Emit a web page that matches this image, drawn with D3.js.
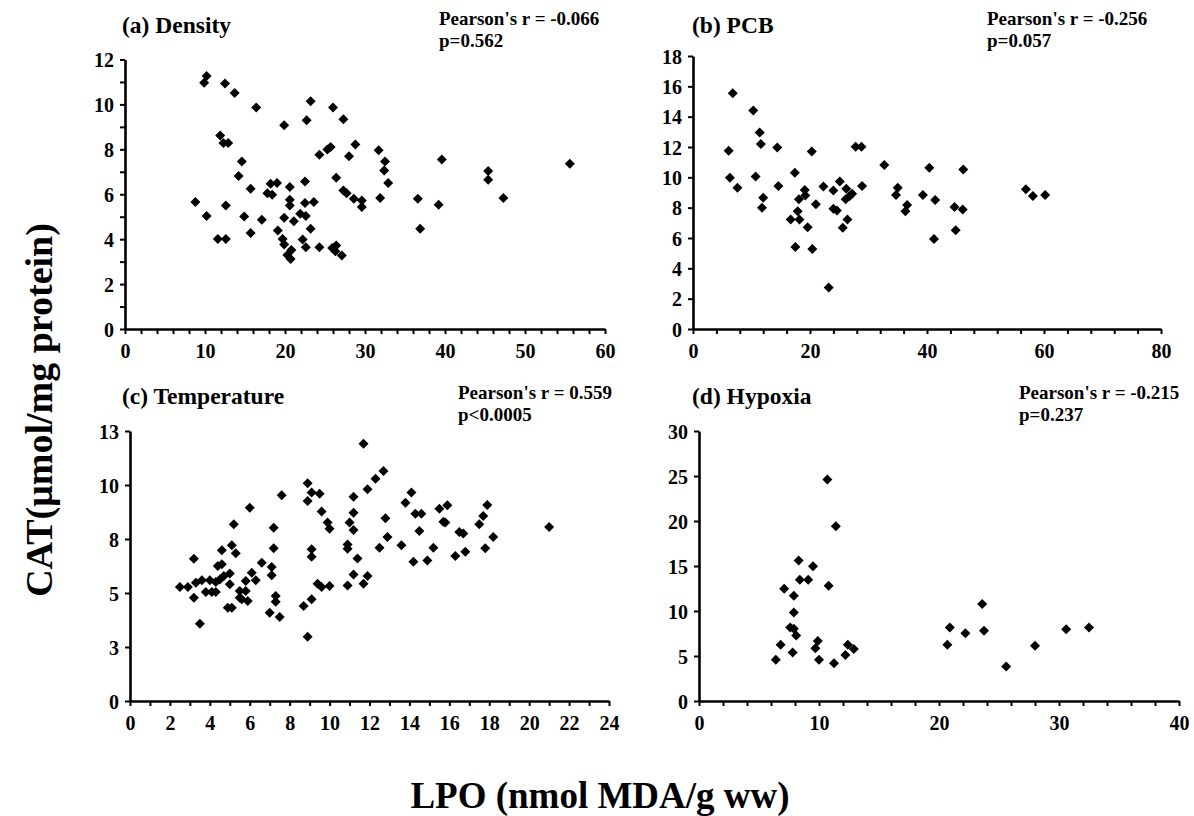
<!DOCTYPE html>
<html><head><meta charset="utf-8">
<script src="https://cdn.jsdelivr.net/npm/d3@7"></script>
<style>
body{margin:0;background:#fff}
svg text{font-family:"Liberation Serif","Times New Roman",serif;font-weight:bold;fill:#000}
</style>
</head><body>
<svg id="chart" width="1194" height="816"></svg>
<script>
// ---------- DATA ----------
const densityX = [10.2,9.9,12.5,13.7,16.4,23.2,22.7,19.9,26.0,27.3,11.9,12.3,12.9,14.6,14.2,15.7,18.2,19.0,17.8,18.4,20.6,22.5,8.8,10.2,12.6,14.9,17.1,15.7,11.6,12.6,20.6,20.6,19.9,21.1,21.9,22.6,22.5,23.6,23.2,19.1,19.7,19.9,20.8,20.3,20.7,22.2,22.6,24.3,25.9,26.4,26.3,27.1,24.3,25.3,25.7,28.0,28.8,26.4,27.3,27.7,28.6,29.6,29.6,31.7,32.5,32.4,32.9,31.9,36.6,36.9,39.6,39.2,45.4,45.4,47.3,55.6];
const densityY = [11.26,10.96,10.93,10.51,9.86,10.14,9.29,9.07,9.86,9.34,8.62,8.28,8.28,7.46,6.81,6.25,6.47,6.50,6.05,5.98,6.32,6.57,5.65,5.03,5.50,5.01,4.86,4.27,4.01,4.01,5.75,5.50,4.95,4.80,5.13,5.03,5.61,5.65,4.46,4.39,4.01,3.76,3.52,3.30,3.12,3.99,3.64,3.64,3.61,3.72,3.46,3.27,7.76,7.99,8.10,7.69,8.22,6.74,6.17,6.05,5.80,5.72,5.43,7.96,7.46,7.06,6.50,5.83,5.80,4.46,7.55,5.53,7.03,6.65,5.83,7.36];

const pcbX = [6.8,10.3,11.4,11.6,14.4,6.1,20.3,27.8,28.8,32.7,40.4,46.2,6.3,10.7,7.6,14.6,17.4,12.0,11.8,19.1,19.2,18.1,21.0,22.3,24.0,25.1,26.2,26.1,26.8,27.2,28.9,24.0,24.6,17.9,16.7,18.2,19.6,26.4,25.6,17.5,20.4,23.2,35.0,34.7,36.6,36.3,39.3,41.4,41.2,44.7,46.1,44.9,56.9,58.1,60.2];
const pcbY = [15.55,14.40,12.96,12.19,11.97,11.75,11.70,12.01,12.01,10.82,10.64,10.51,9.98,10.05,9.32,9.43,10.31,8.66,7.99,9.17,8.81,8.55,8.22,9.39,9.14,9.72,9.25,8.55,8.77,8.92,9.43,7.93,7.82,7.77,7.22,7.22,6.71,7.22,6.67,5.41,5.28,2.74,9.32,8.83,8.17,7.77,8.83,8.50,5.94,8.04,7.88,6.51,9.21,8.77,8.83];

const tempX = [2.5,2.9,3.2,3.3,3.6,3.2,3.5,3.8,4.0,4.1,4.3,4.3,4.4,4.6,4.6,4.5,4.7,5.0,5.0,5.1,5.3,5.2,4.9,5.1,5.5,5.5,5.6,5.8,5.8,5.9,6.1,6.3,6.0,6.6,7.0,7.1,7.1,7.2,7.2,7.3,7.3,7.5,7.6,8.9,8.9,9.1,9.5,9.6,9.9,10.0,9.1,9.1,8.7,8.9,9.1,9.4,9.6,10.0,10.9,10.9,10.9,11.0,11.2,11.2,11.2,11.2,11.4,11.7,11.9,11.7,11.9,12.3,12.7,12.8,12.9,12.5,13.6,13.8,14.1,14.2,14.3,14.6,14.5,14.9,15.2,15.5,15.9,15.7,15.8,16.3,16.5,16.7,16.8,17.5,17.7,17.9,17.8,18.2,21.0];
const tempY = [5.28,5.28,6.59,5.48,5.59,4.78,3.58,5.05,5.59,5.05,5.05,5.51,6.25,6.33,6.98,5.63,5.79,5.90,5.40,7.21,6.84,8.18,4.32,4.32,5.09,4.78,4.71,5.09,5.56,4.63,5.94,5.59,8.95,6.40,4.09,6.20,5.82,7.07,8.02,4.86,4.60,3.89,9.52,10.08,9.26,9.65,9.60,8.77,8.26,7.98,7.02,6.68,4.40,2.98,4.71,5.43,5.28,5.32,5.35,7.25,7.05,8.26,8.72,9.46,7.92,5.86,6.60,5.43,5.79,11.91,9.80,10.29,10.65,8.46,7.59,7.10,7.21,9.18,9.65,6.45,8.67,8.67,7.87,6.51,7.10,8.90,9.06,8.30,8.26,6.71,7.82,7.76,6.91,8.18,8.56,9.07,7.07,7.59,8.06];

const hypoxiaX = [6.4,6.8,7.1,7.8,7.9,7.9,7.6,7.9,8.1,8.3,8.4,9.1,9.5,9.7,9.9,10.0,10.7,10.8,11.4,11.25,12.2,12.4,12.9,20.7,20.9,22.2,23.6,23.75,25.6,28.0,30.6,32.5];
const hypoxiaY = [4.57,6.24,12.48,5.38,11.70,9.84,8.17,8.02,7.28,15.60,13.48,13.48,14.96,5.87,6.68,4.57,24.62,12.81,19.42,4.20,5.12,6.24,5.79,6.24,8.17,7.54,10.77,7.80,3.82,6.13,7.98,8.17];

// ticks and labels
const aXTicks = d3.range(0, 61, 2), aXLabels = [0,10,20,30,40,50,60];
const aYTicks = d3.range(0, 13, 1), aYLabels = [0,2,4,6,8,10,12];
const bXTicks = d3.range(0, 81, 4), bXLabels = [0,20,40,60,80];
const bYTicks = d3.range(0, 19, 2), bYLabels = [0,2,4,6,8,10,12,14,16,18];
const cXTicks = d3.range(0, 25, 1), cXLabels = [0,2,4,6,8,10,12,14,16,18,20,22,24];
const cYTicks = [0,2.5,5,7.5,10,12.5], cYLabelText = ["0","3","5","8","10","13"];
const dXTicks = d3.range(0, 41, 2), dXLabels = [0,10,20,30,40];
const dYTicks = [0,5,10,15,20,25,30], dYLabels = [0,5,10,15,20,25,30];

const titles = ["(a) Density","(b) PCB","(c) Temperature","(d) Hypoxia"];
const stats = [["Pearson's r = -0.066","p=0.562"],["Pearson's r = -0.256","p=0.057"],["Pearson's r = 0.559","p<0.0005"],["Pearson's r = -0.215","p=0.237"]];
const yTitle = "CAT(\u03bcmol/mg protein)";
const xTitle = "LPO (nmol MDA/g ww)";

// ---------- LAYOUT ----------
const panels = [
  {xs:densityX, ys:densityY, xMax:60, yMax:12, xr:[125,605], yr:[329,59.5], xt:aXTicks, xl:aXLabels, yt:aYTicks, yl:aYLabels, ylt:null, tx:122, ty:33, sx:439, sy:25},
  {xs:pcbX, ys:pcbY, xMax:80, yMax:18, xr:[693,1161], yr:[329,56], xt:bXTicks, xl:bXLabels, yt:bYTicks, yl:bYLabels, ylt:null, tx:692, ty:33, sx:987, sy:25},
  {xs:tempX, ys:tempY, xMax:24, yMax:12.5, xr:[130,609], yr:[701,431], xt:cXTicks, xl:cXLabels, yt:cYTicks, yl:cYTicks, ylt:cYLabelText, tx:122, ty:404, sx:458, sy:399},
  {xs:hypoxiaX, ys:hypoxiaY, xMax:40, yMax:30, xr:[699,1179], yr:[701,431], xt:dXTicks, xl:dXLabels, yt:dYTicks, yl:dYLabels, ylt:null, tx:692, ty:404, sx:1019, sy:399}
];

const svg = d3.select("#chart");
const diamond = {draw(ctx, size){ const r = Math.sqrt(size/2); ctx.moveTo(0,-r); ctx.lineTo(r,0); ctx.lineTo(0,r); ctx.lineTo(-r,0); ctx.closePath(); }};
const sym = d3.symbol().type(diamond).size(50);

panels.forEach((p, i) => {
  const x = d3.scaleLinear().domain([0, p.xMax]).range(p.xr);
  const y = d3.scaleLinear().domain([0, p.yMax]).range(p.yr);
  const g = svg.append("g");

  const xl = new Set(p.xl);
  const xAxis = d3.axisBottom(x).tickValues(p.xt).tickSize(5).tickSizeOuter(0).tickPadding(6)
    .tickFormat(d => xl.has(d) ? d3.format("d")(d) : "");
  const gx = g.append("g").attr("transform", `translate(0,${p.yr[0]})`).call(xAxis);

  const yl = new Set(p.yl);
  const yAxis = d3.axisLeft(y).tickValues(p.yt).tickSize(5).tickSizeOuter(0).tickPadding(6)
    .tickFormat((d, k) => p.ylt ? p.ylt[k] : (yl.has(d) ? d3.format("d")(d) : ""));
  const gy = g.append("g").attr("transform", `translate(${p.xr[0]},0)`).call(yAxis);

  [gx, gy].forEach(a => {
    a.select(".domain").attr("stroke", "#000").attr("stroke-width", 2.6);
    a.selectAll(".tick line").attr("stroke", "#000").attr("stroke-width", 2);
    a.selectAll(".tick text").attr("font-size", 20).attr("font-family", "Liberation Serif, serif").attr("font-weight", "bold").attr("fill", "#000");
  });
  gx.selectAll(".tick text").attr("dy", "0.9em");
  gy.selectAll(".tick text").attr("dy", "0.35em");

  g.append("g").selectAll("path").data(p.xs.map((v, k) => [v, p.ys[k]])).join("path")
    .attr("d", sym).attr("fill", "#000")
    .attr("transform", d => `translate(${x(d[0])},${y(d[1])})`);

  g.append("text").attr("x", p.tx).attr("y", p.ty).attr("font-size", 23.5).text(titles[i]);
  g.append("text").attr("x", p.sx).attr("y", p.sy).attr("font-size", 19).text(stats[i][0]);
  g.append("text").attr("x", p.sx).attr("y", p.sy + 22).attr("font-size", 19).text(stats[i][1]);
});

svg.append("text").attr("transform", "translate(52,410) rotate(-90)").attr("text-anchor", "middle")
  .attr("font-size", 38).text(yTitle);
svg.append("text").attr("x", 600).attr("y", 808).attr("text-anchor", "middle")
  .attr("font-size", 37).text(xTitle);
</script>
</body></html>
